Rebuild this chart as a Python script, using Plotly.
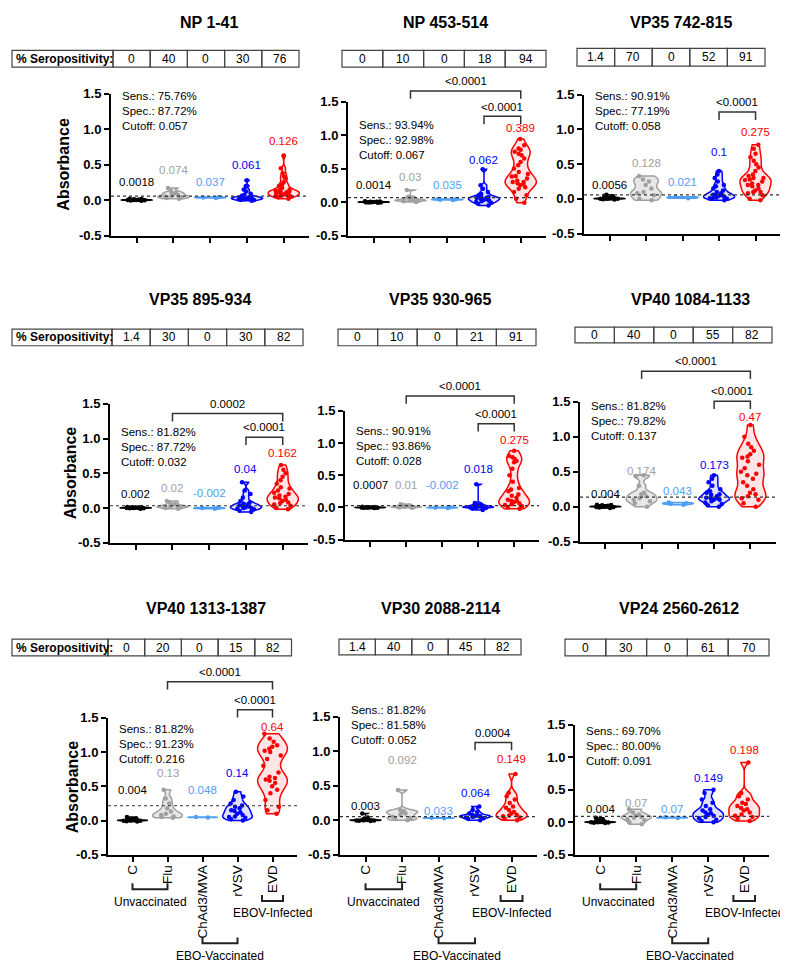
import numpy as np
import plotly.graph_objects as go

W, H = 788, 964
FONT = "Arial, Liberation Sans, sans-serif"

# ---------------- data ----------------
TITLES = ["NP 1-41", "NP 453-514", "VP35 742-815", "VP35 895-934", "VP35 930-965",
          "VP40 1084-1133", "VP40 1313-1387", "VP30 2088-2114", "VP24 2560-2612"]
GROUPS = ["C", "Flu", "ChAd3/MVA", "rVSV", "EVD"]
SEROPOS = [["0", "40", "0", "30", "76"], ["0", "10", "0", "18", "94"], ["1.4", "70", "0", "52", "91"],
           ["1.4", "30", "0", "30", "82"], ["0", "10", "0", "21", "91"], ["0", "40", "0", "55", "82"],
           ["0", "20", "0", "15", "82"], ["1.4", "40", "0", "45", "82"], ["0", "30", "0", "61", "70"]]
SENS = ["75.76%", "93.94%", "90.91%", "81.82%", "90.91%", "81.82%", "81.82%", "81.82%", "69.70%"]
SPEC = ["87.72%", "92.98%", "77.19%", "87.72%", "93.86%", "79.82%", "91.23%", "81.58%", "80.00%"]
CUTOFF = [0.057, 0.067, 0.058, 0.032, 0.028, 0.137, 0.216, 0.052, 0.091]
MEDIAN_TXT = [["0.0018", "0.074", "0.037", "0.061", "0.126"],
              ["0.0014", "0.03", "0.035", "0.062", "0.389"],
              ["0.0056", "0.128", "0.021", "0.1", "0.275"],
              ["0.002", "0.02", "-0.002", "0.04", "0.162"],
              ["0.0007", "0.01", "-0.002", "0.018", "0.275"],
              ["0.004", "0.174", "0.043", "0.173", "0.47"],
              ["0.004", "0.13", "0.048", "0.14", "0.64"],
              ["0.003", "0.092", "0.033", "0.064", "0.149"],
              ["0.004", "0.07", "0.07", "0.149", "0.198"]]
SIG = [[], [(1, 4, "<0.0001"), (3, 4, "<0.0001")], [(3, 4, "<0.0001")],
       [(1, 4, "0.0002"), (3, 4, "<0.0001")], [(1, 4, "<0.0001"), (3, 4, "<0.0001")],
       [(1, 4, "<0.0001"), (3, 4, "<0.0001")], [(1, 4, "<0.0001"), (3, 4, "<0.0001")],
       [(3, 4, "0.0004")], []]

P1_C = [-0.01, -0.005, 0.0, 0.0, 0.001, 0.002, 0.002, 0.003, 0.005, 0.008, 0.01, 0.015, 0.02, -0.003]
P1_FLU = [0.02, 0.03, 0.04, 0.05, 0.06, 0.07, 0.09, 0.1, 0.12, 0.17]
P1_CHAD = [0.03, 0.037, 0.045]
P1_RVSV = [-0.01, 0.0, 0.0, 0.01, 0.01, 0.02, 0.02, 0.03, 0.03, 0.03, 0.04, 0.04, 0.05, 0.06, 0.07, 0.09, 0.12, 0.15, 0.2, 0.28]
P1_EVD = [0.02, 0.04, 0.05, 0.06, 0.06, 0.07, 0.08, 0.09, 0.1, 0.1, 0.11, 0.12, 0.12, 0.13, 0.14, 0.15, 0.17, 0.2, 0.22, 0.25, 0.3, 0.33, 0.38, 0.45, 0.63]

P2_C = [-0.012, -0.008, -0.005, -0.004, -0.002, 0.0, 0.0, 0.001, 0.001, 0.002, 0.003, 0.005, 0.008, 0.01]
P2_FLU = [0.0, 0.01, 0.02, 0.02, 0.03, 0.03, 0.04, 0.05, 0.08, 0.18]
P2_CHAD = [0.03, 0.035, 0.04, 0.045]
P2_RVSV = [-0.05, -0.03, -0.01, 0.0, 0.01, 0.02, 0.03, 0.04, 0.05, 0.06, 0.06, 0.07, 0.08, 0.1, 0.12, 0.15, 0.2, 0.25, 0.49]
P2_EVD = [-0.01, 0.05, 0.1, 0.15, 0.2, 0.22, 0.25, 0.27, 0.28, 0.3, 0.3, 0.32, 0.35, 0.38, 0.39, 0.42, 0.45, 0.5, 0.55, 0.6, 0.65, 0.7, 0.72, 0.75, 0.78, 0.8, 0.85, 0.94]

P3_C = [-0.01, -0.005, 0.0, 0.0, 0.002, 0.004, 0.005, 0.006, 0.008, 0.01, 0.015, 0.02, 0.03, 0.045, 0.06]
P3_FLU = [-0.02, 0.0, 0.05, 0.08, 0.1, 0.15, 0.2, 0.25, 0.28, 0.33]
P3_CHAD = [0.01, 0.03]
P3_RVSV = [-0.02, 0.0, 0.0, 0.01, 0.02, 0.03, 0.04, 0.05, 0.05, 0.06, 0.08, 0.1, 0.12, 0.15, 0.18, 0.2, 0.25, 0.3, 0.35, 0.4]
P3_EVD = [-0.02, 0.0, 0.05, 0.08, 0.1, 0.1, 0.12, 0.15, 0.18, 0.2, 0.2, 0.22, 0.25, 0.27, 0.28, 0.3, 0.3, 0.33, 0.35, 0.4, 0.45, 0.5, 0.55, 0.6, 0.65, 0.72, 0.78]

P4_C = [-0.01, -0.006, -0.003, -0.002, 0.0, 0.001, 0.002, 0.002, 0.003, 0.005, 0.007, 0.01, 0.012, 0.015]
P4_FLU = [-0.01, 0.0, 0.01, 0.02, 0.02, 0.03, 0.04, 0.06, 0.08, 0.1]
P4_CHAD = [-0.01, -0.002, 0.005]
P4_RVSV = [-0.06, -0.04, -0.02, -0.01, 0.0, 0.0, 0.01, 0.02, 0.03, 0.04, 0.05, 0.06, 0.08, 0.1, 0.15, 0.2, 0.25, 0.37]
P4_EVD = [-0.02, 0.0, 0.03, 0.05, 0.07, 0.08, 0.1, 0.12, 0.14, 0.15, 0.16, 0.18, 0.2, 0.22, 0.25, 0.28, 0.3, 0.35, 0.4, 0.45, 0.5, 0.55, 0.62]

P5_C = [-0.008, -0.005, -0.003, -0.002, -0.001, 0.0, 0.0, 0.0007, 0.001, 0.002, 0.003, 0.005, 0.007, 0.01]
P5_FLU = [-0.005, 0.0, 0.005, 0.01, 0.01, 0.015, 0.02, 0.03, 0.04, 0.05]
P5_CHAD = [-0.01, -0.002, 0.005]
P5_RVSV = [-0.04, -0.02, -0.01, 0.0, 0.0, 0.005, 0.01, 0.01, 0.02, 0.02, 0.03, 0.04, 0.05, 0.07, 0.36]
P5_EVD = [-0.02, 0.0, 0.02, 0.04, 0.05, 0.06, 0.08, 0.1, 0.1, 0.12, 0.15, 0.18, 0.2, 0.25, 0.28, 0.3, 0.4, 0.5, 0.6, 0.7, 0.72, 0.75, 0.78, 0.8, 0.88]

P6_C = [-0.02, -0.012, -0.006, -0.003, 0.0, 0.002, 0.004, 0.004, 0.006, 0.01, 0.015, 0.02, 0.025, 0.03]
P6_FLU = [0.0, 0.05, 0.08, 0.1, 0.12, 0.15, 0.18, 0.2, 0.3, 0.44, 0.45]
P6_CHAD = [0.03, 0.043, 0.05, 0.06]
P6_RVSV = [0.0, 0.02, 0.04, 0.06, 0.08, 0.1, 0.1, 0.12, 0.12, 0.13, 0.15, 0.17, 0.18, 0.2, 0.22, 0.25, 0.3, 0.35, 0.4, 0.45]
P6_EVD = [0.0, 0.05, 0.1, 0.12, 0.15, 0.18, 0.2, 0.25, 0.3, 0.35, 0.4, 0.45, 0.47, 0.5, 0.55, 0.6, 0.65, 0.7, 0.72, 0.75, 0.8, 0.85, 0.9, 1.0, 1.17]

P7_C = [-0.015, -0.01, -0.005, -0.002, 0.0, 0.002, 0.004, 0.004, 0.006, 0.01, 0.015, 0.02, 0.03, 0.05]
P7_FLU = [0.04, 0.05, 0.06, 0.08, 0.1, 0.13, 0.18, 0.25, 0.32, 0.45]
P7_CHAD = [0.045, 0.05]
P7_RVSV = [0.0, 0.02, 0.04, 0.05, 0.06, 0.08, 0.1, 0.12, 0.14, 0.15, 0.18, 0.2, 0.22, 0.25, 0.3, 0.35, 0.42]
P7_EVD = [0.1, 0.15, 0.2, 0.3, 0.4, 0.45, 0.5, 0.55, 0.58, 0.6, 0.62, 0.64, 0.7, 0.8, 0.9, 0.95, 1.0, 1.02, 1.05, 1.08, 1.1, 1.15, 1.2, 1.27]

P8_C = [-0.01, -0.006, -0.003, -0.002, 0.0, 0.002, 0.003, 0.003, 0.005, 0.008, 0.012, 0.02, 0.04, 0.1]
P8_FLU = [0.0, 0.02, 0.03, 0.05, 0.08, 0.1, 0.12, 0.13, 0.15, 0.44]
P8_CHAD = [0.03, 0.035]
P8_RVSV = [0.0, 0.02, 0.03, 0.04, 0.05, 0.06, 0.06, 0.07, 0.08, 0.1, 0.12, 0.15, 0.2]
P8_EVD = [0.0, 0.02, 0.04, 0.06, 0.07, 0.08, 0.1, 0.12, 0.15, 0.18, 0.2, 0.25, 0.3, 0.35, 0.4, 0.67]

P9_C = [-0.012, -0.008, -0.004, -0.002, 0.0, 0.002, 0.004, 0.004, 0.006, 0.01, 0.015, 0.02, 0.035, 0.07]
P9_FLU = [-0.03, 0.0, 0.03, 0.05, 0.07, 0.08, 0.1, 0.12, 0.15, 0.2]
P9_CHAD = [0.065, 0.075]
P9_RVSV = [0.0, 0.02, 0.04, 0.06, 0.08, 0.1, 0.12, 0.14, 0.15, 0.18, 0.2, 0.25, 0.3, 0.35, 0.45, 0.5]
P9_EVD = [0.02, 0.05, 0.08, 0.1, 0.12, 0.15, 0.18, 0.2, 0.22, 0.25, 0.28, 0.3, 0.35, 0.4, 0.45, 0.92]

PANEL_DATA = [
    [P1_C, P1_FLU, P1_CHAD, P1_RVSV, P1_EVD],
    [P2_C, P2_FLU, P2_CHAD, P2_RVSV, P2_EVD],
    [P3_C, P3_FLU, P3_CHAD, P3_RVSV, P3_EVD],
    [P4_C, P4_FLU, P4_CHAD, P4_RVSV, P4_EVD],
    [P5_C, P5_FLU, P5_CHAD, P5_RVSV, P5_EVD],
    [P6_C, P6_FLU, P6_CHAD, P6_RVSV, P6_EVD],
    [P7_C, P7_FLU, P7_CHAD, P7_RVSV, P7_EVD],
    [P8_C, P8_FLU, P8_CHAD, P8_RVSV, P8_EVD],
    [P9_C, P9_FLU, P9_CHAD, P9_RVSV, P9_EVD],
]

# ---------------- layout / style ----------------
COLORS = ["#000000", "#a0a0a0", "#4f9ef5", "#0000ff", "#ff0000"]
FILLS = ["rgba(0,0,0,0.6)", "rgba(160,160,160,0.25)", "rgba(79,158,245,0.4)",
         "rgba(0,0,255,0.12)", "rgba(255,0,0,0.10)"]
XR = (-0.7, 4.7)
YR = (-0.5, 1.5)
# y-axis x px, category spacing px, px of top (1.5), px of bottom (-0.5)
GEOM = [(103, 36.75, 80, 224), (340, 36.75, 88, 224), (576, 36.5, 81, 222),
        (102, 36.75, 395, 536), (337, 36.0, 402, 533), (572, 36.25, 393, 535),
        (100, 35.0, 714, 853), (332, 36.5, 713, 853), (567, 36.0, 721, 853)]
# table: first numeric cell x, cell width, top, bottom
TABLE = [(105, 37.2, 36, 53), (334, 40.8, 36, 53), (569, 37.6, 34, 52),
         (104, 38.2, 319, 336), (330, 39.6, 319, 336), (567, 39.4, 317, 333),
         (100, 36.7, 634, 651), (331, 36.4, 634, 650), (557, 40.8, 634, 651)]
TITLE_POS = [(201, 8), (437, 8), (673, 8), (192, 289), (432, 289), (682, 289),
             (198, 603), (432, 603), (671, 603)]
STAT_Y = [1.47, 1.16, 1.49, 1.10, 1.19, 1.44, 1.34, 1.60, 1.41]
LABEL_Y = [[0.26, 0.43, 0.26, 0.50, 0.83], [0.25, 0.37, 0.25, 0.63, 1.10],
           [0.20, 0.52, 0.24, 0.68, 0.96], [0.20, 0.29, 0.22, 0.56, 0.79],
           [0.35, 0.35, 0.35, 0.60, 1.04], [0.18, 0.51, 0.22, 0.60, 1.29],
           [0.44, 0.69, 0.44, 0.69, 1.37], [0.21, 0.87, 0.14, 0.40, 0.89],
           [0.20, 0.29, 0.20, 0.68, 1.11]]
SIG_LEVEL = [[], [1.66, 1.28], [1.25], [1.36, 1.02], [1.73, 1.30], [1.94, 1.51],
             [2.03, 1.62], [1.13], []]
YTITLE_X = [56, 62, 64]


def px_x(p, v):
    ax, sp, t, b = GEOM[p]
    return ax + (v - XR[0]) * sp


def px_y(p, v):
    ax, sp, t, b = GEOM[p]
    return b - (v - YR[0]) / (YR[1] - YR[0]) * (b - t)


def fx(px):
    return px / W


def fy(py):
    return 1 - py / H


def kde_bw(vals):
    a = np.asarray(vals, dtype=float)
    iqr = np.subtract(*np.percentile(a, [75, 25]))
    s = min(a.std(ddof=1), iqr / 1.34) if iqr > 0 else a.std(ddof=1)
    bw = 0.9 * s * len(a) ** -0.2 * 0.6
    return max(bw, 0.004)


fig = go.Figure()
shapes = []
annos = []
layout = dict(width=W, height=H, margin=dict(l=0, r=0, t=0, b=0), autosize=False,
              paper_bgcolor="white", plot_bgcolor="white", showlegend=False,
              violinmode="overlay", font=dict(family=FONT, color="black"))

for p in range(9):
    sfx = "" if p == 0 else str(p + 1)
    xa, ya = "x" + sfx, "y" + sfx
    ax, sp, t, b = GEOM[p]
    row3 = p >= 6
    layout["xaxis" + sfx] = dict(
        domain=[fx(ax), fx(ax + (XR[1] - XR[0]) * sp)], anchor=ya, range=list(XR),
        tickmode="array", tickvals=list(range(5)), ticktext=GROUPS,
        showticklabels=row3, tickangle=-90, ticks="outside", ticklen=5, tickwidth=2,
        tickcolor="black", showline=True, linewidth=2, linecolor="black",
        showgrid=False, zeroline=False, fixedrange=True, ticklabelstandoff=-2,
        tickfont=dict(family=FONT, size=13.5, color="black"))
    layout["yaxis" + sfx] = dict(
        domain=[fy(b), fy(t)], anchor=xa, range=list(YR), tickmode="array",
        tickvals=[-0.5, 0, 0.5, 1.0, 1.5],
        ticktext=["<b>-0.5</b>", "<b>0.0</b>", "<b>0.5</b>", "<b>1.0</b>", "<b>1.5</b>"],
        ticks="outside", ticklen=5, tickwidth=2, tickcolor="black", showline=True,
        linewidth=2, linecolor="black", showgrid=False, zeroline=False, fixedrange=True,
        tickfont=dict(family=FONT, size=13, color="black"))

    # violins
    for g in range(5):
        vals = PANEL_DATA[p][g]
        kw = {}
        if len(vals) >= 5:
            kw["bandwidth"] = kde_bw(vals)
        fig.add_trace(go.Violin(
            x=[g] * len(vals), y=vals, xaxis=xa, yaxis=ya, name=GROUPS[g],
            width=0.85, spanmode="hard", scalemode="width", points="all",
            pointpos=0, jitter=0.7, line=dict(color=COLORS[g], width=1.5),
            fillcolor=FILLS[g], marker=dict(color=COLORS[g], size=4.5),
            hoverinfo="skip", showlegend=False, **kw))
        annos.append(dict(xref=xa, yref=ya, x=g, y=LABEL_Y[p][g], text=MEDIAN_TXT[p][g],
                          showarrow=False, yanchor="middle", xanchor="center",
                          font=dict(family=FONT, size=11.5, color=COLORS[g])))

    # cutoff dotted line
    shapes.append(dict(type="line", xref=xa, yref=ya, x0=XR[0], x1=XR[1],
                       y0=CUTOFF[p], y1=CUTOFF[p], layer="above",
                       line=dict(color="#333333", width=1.2, dash="dot")))

    # stats text
    annos.append(dict(xref="paper", yref="paper", x=fx(ax + 9), y=fy(px_y(p, STAT_Y[p]) - 8),
                      xanchor="left", yanchor="top", align="left", showarrow=False,
                      text=f"Sens.: {SENS[p]}<br>Spec.: {SPEC[p]}<br>Cutoff: {CUTOFF[p]}",
                      font=dict(family=FONT, size=11.5, color="black")))

    # title
    tx, ty = TITLE_POS[p]
    annos.append(dict(xref="paper", yref="paper", x=fx(tx), y=fy(ty), xanchor="center",
                      yanchor="middle", showarrow=False, text=f"<b>{TITLES[p]}</b>",
                      font=dict(family=FONT, size=16, color="black")))

    # seropositivity table
    x0, cw, ttop, tbot = TABLE[p]
    tc = (ttop + tbot) / 2
    if p % 3 == 0:
        shapes.append(dict(type="rect", xref="paper", yref="paper", x0=fx(4), x1=fx(x0),
                           y0=fy(tbot), y1=fy(ttop), line=dict(color="#444444", width=1.2)))
        annos.append(dict(xref="paper", yref="paper", x=fx(6), y=fy(tc), xanchor="left",
                          yanchor="middle", showarrow=False, text="<b>% Seropositivity:</b>",
                          font=dict(family=FONT, size=12, color="black")))
        annos.append(dict(xref="paper", yref="paper", x=fx(YTITLE_X[p // 3]),
                          y=fy(px_y(p, 0.5)), textangle=-90, xanchor="center",
                          yanchor="middle", showarrow=False, text="<b>Absorbance</b>",
                          font=dict(family=FONT, size=16, color="black")))
    for i, v in enumerate(SEROPOS[p]):
        shapes.append(dict(type="rect", xref="paper", yref="paper", x0=fx(x0 + i * cw),
                           x1=fx(x0 + (i + 1) * cw), y0=fy(tbot), y1=fy(ttop),
                           line=dict(color="#444444", width=1.2)))
        annos.append(dict(xref="paper", yref="paper", x=fx(x0 + (i + 0.5) * cw), y=fy(tc),
                          xanchor="center", yanchor="middle", showarrow=False, text=v,
                          font=dict(family=FONT, size=12, color="black")))

    # significance brackets
    for (g0, g1, lab), lev in zip(SIG[p], SIG_LEVEL[p]):
        yb = px_y(p, lev)
        xa0, xa1 = px_x(p, g0), px_x(p, g1)
        path = (f"M {fx(xa0)},{fy(yb + 8)} L {fx(xa0)},{fy(yb)} "
                f"L {fx(xa1)},{fy(yb)} L {fx(xa1)},{fy(yb + 8)}")
        shapes.append(dict(type="path", xref="paper", yref="paper", path=path,
                           line=dict(color="#333333", width=1.5)))
        annos.append(dict(xref="paper", yref="paper", x=fx((xa0 + xa1) / 2), y=fy(yb - 10),
                          xanchor="center", yanchor="middle", showarrow=False, text=lab,
                          font=dict(family=FONT, size=11.5, color="black")))

    # group brackets under bottom row
    if row3:
        groups_br = [(0, 1, 888, 901, "Unvaccinated", 0),
                     (2, 3, 943, 956, "EBO-Vaccinated", 0),
                     (3.7, 4.3, 900, 912, "EBOV-Infected", 0)]
        for g0, g1, yl, ylab, lab, dx in groups_br:
            xa0, xa1 = px_x(p, g0), px_x(p, g1)
            path = (f"M {fx(xa0)},{fy(yl - 6)} L {fx(xa0)},{fy(yl)} "
                    f"L {fx(xa1)},{fy(yl)} L {fx(xa1)},{fy(yl - 6)}")
            shapes.append(dict(type="path", xref="paper", yref="paper", path=path,
                               line=dict(color="#222222", width=2)))
            annos.append(dict(xref="paper", yref="paper", x=fx((xa0 + xa1) / 2 + dx),
                              y=fy(ylab), xanchor="center", yanchor="middle",
                              showarrow=False, text=lab,
                              font=dict(family=FONT, size=12, color="black")))

layout["shapes"] = shapes
layout["annotations"] = annos
fig.update_layout(**layout)
fig.write_html("out.html")
